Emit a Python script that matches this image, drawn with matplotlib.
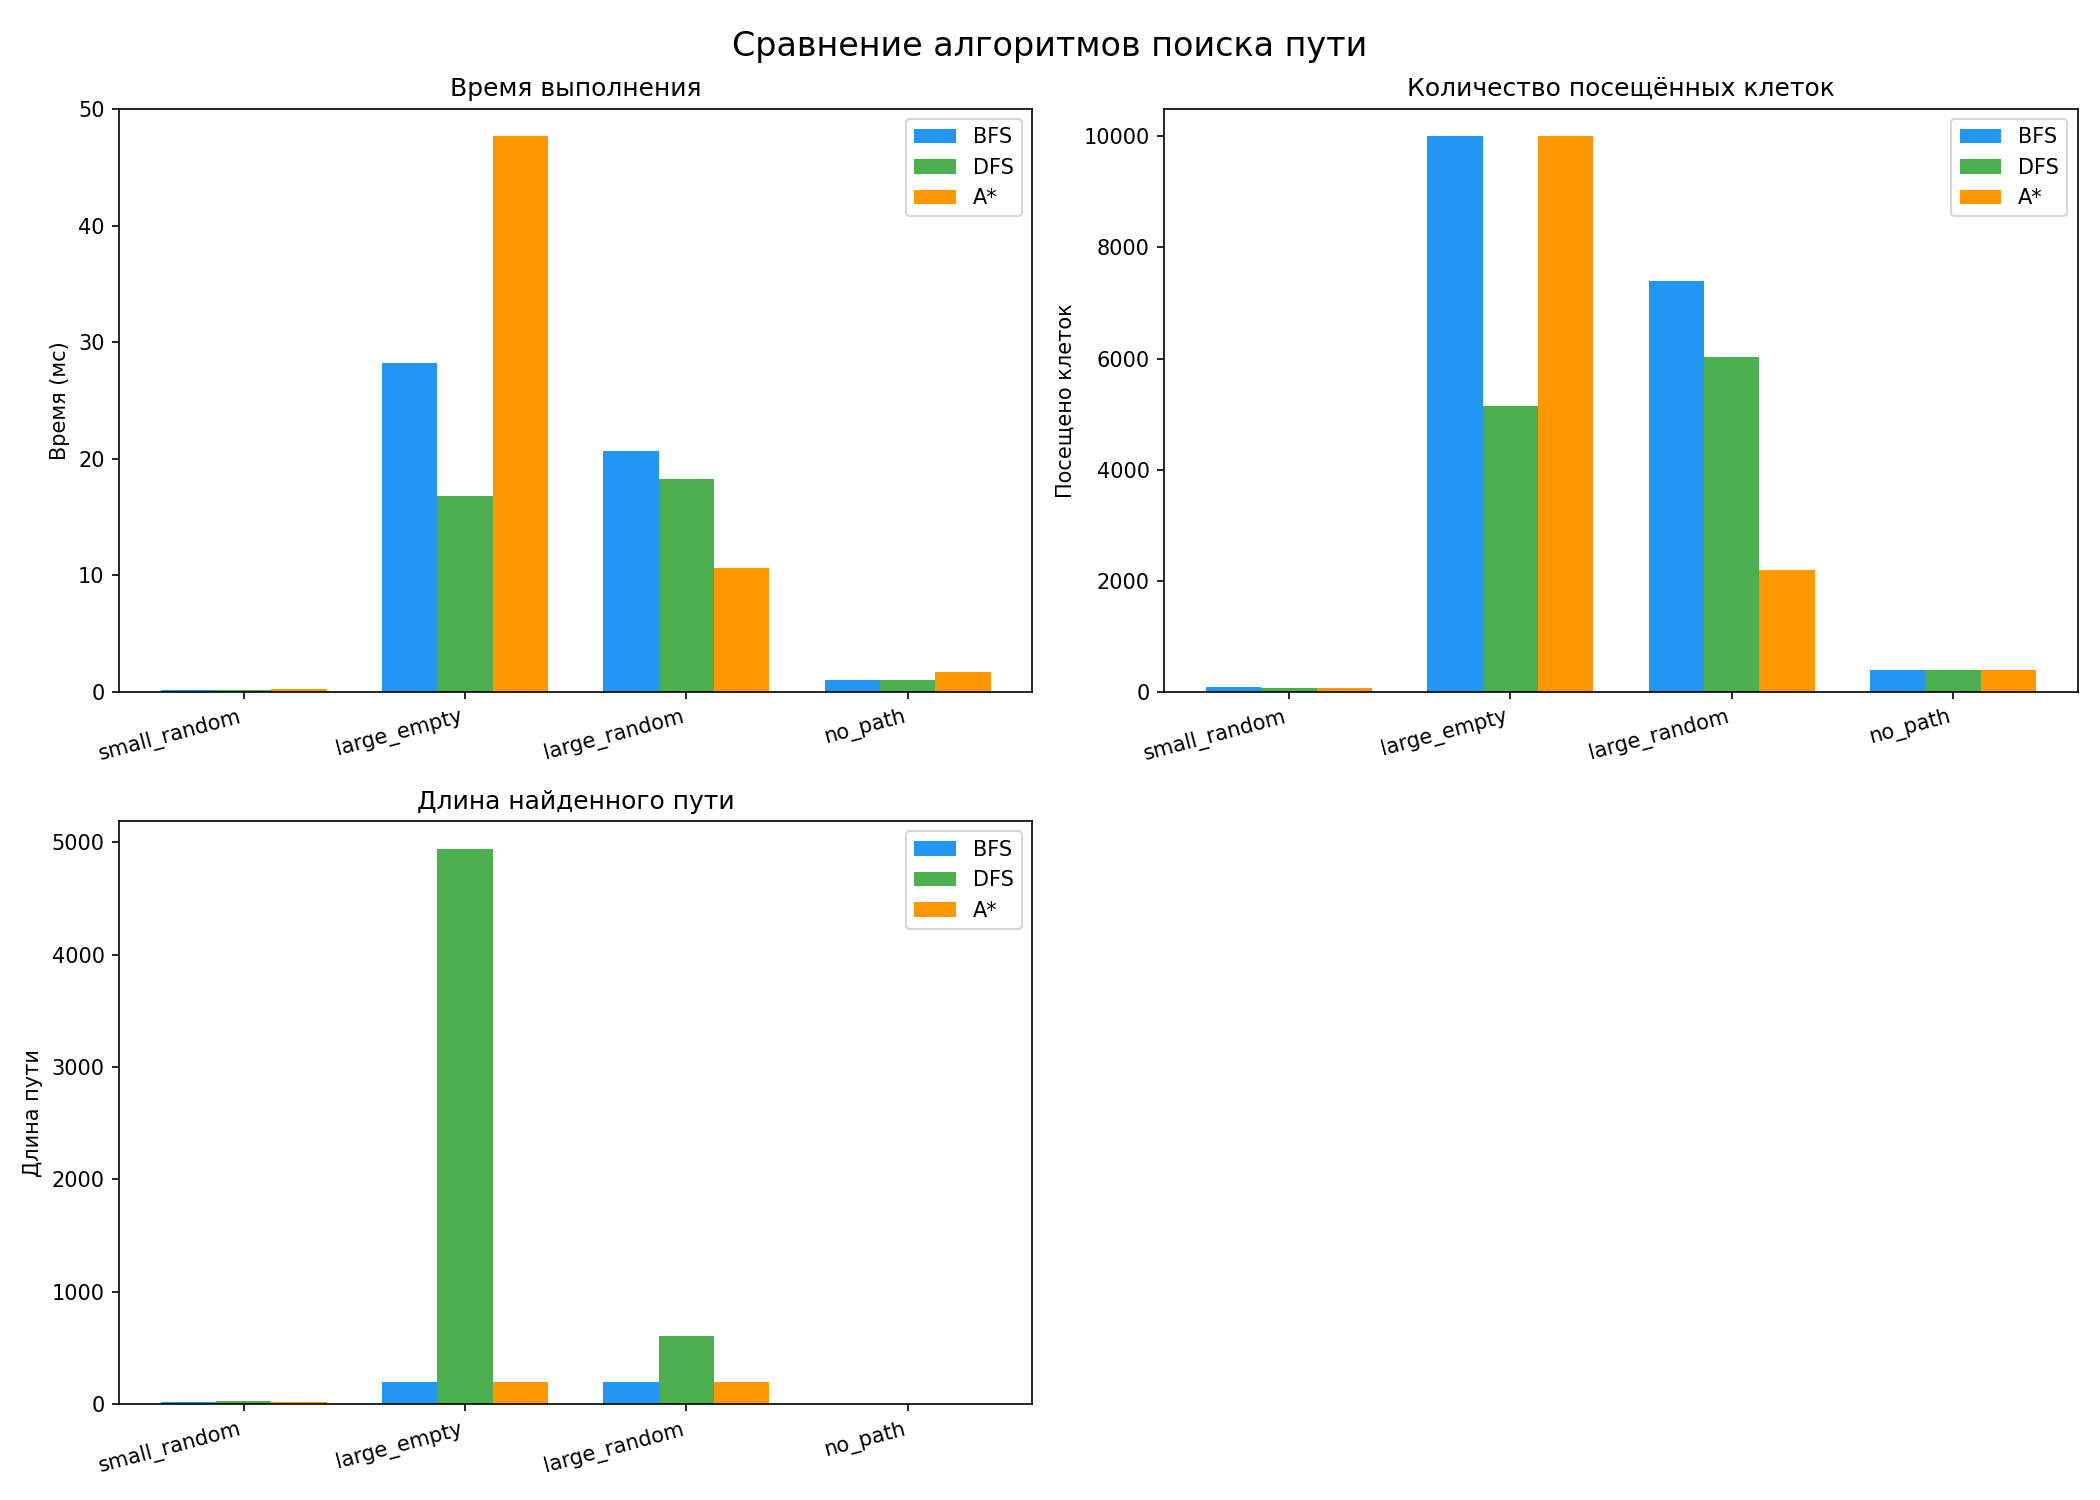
"""
Сравнение алгоритмов поиска пути: время, посещённые клетки, длина пути.
"""

import matplotlib
import numpy as np

matplotlib.use("Agg")
import matplotlib.pyplot as plt


SCENARIOS = ["small_random", "large_empty", "large_random", "no_path"]
ALGORITHMS = ["BFS", "DFS", "A*"]

TIME_BFS = [0.12, 28.2, 20.7, 1.0]
TIME_DFS = [0.12, 16.8, 18.3, 1.0]
TIME_ASTAR = [0.23, 47.7, 10.6, 1.7]

VISITED_BFS = [85, 10000, 7390, 400]
VISITED_DFS = [66, 5140, 6030, 400]
VISITED_ASTAR = [66, 10000, 2200, 400]

PATH_BFS = [20, 199, 199, 0]
PATH_DFS = [31, 4940, 612, 0]
PATH_ASTAR = [20, 199, 199, 0]

COLORS = ["#2196F3", "#4CAF50", "#FF9800"]


def draw_panel(axis, series, title, ylabel):
    """Grouped bar chart for one metric."""
    positions = np.arange(len(SCENARIOS))
    width = 0.25

    for index, (name, values) in enumerate(zip(ALGORITHMS, series)):
        axis.bar(
            positions + (index - 1) * width,
            values,
            width,
            label=name,
            color=COLORS[index],
        )

    axis.set_title(title)
    axis.set_ylabel(ylabel)
    axis.set_xticks(positions)
    axis.set_xticklabels(SCENARIOS, rotation=15, ha="right")
    axis.legend(loc="upper right")


def main():
    figure, axes = plt.subplots(2, 2, figsize=(14, 10))

    draw_panel(
        axes[0, 0],
        [TIME_BFS, TIME_DFS, TIME_ASTAR],
        "Время выполнения",
        "Время (мс)",
    )
    draw_panel(
        axes[0, 1],
        [VISITED_BFS, VISITED_DFS, VISITED_ASTAR],
        "Количество посещённых клеток",
        "Посещено клеток",
    )
    draw_panel(
        axes[1, 0],
        [PATH_BFS, PATH_DFS, PATH_ASTAR],
        "Длина найденного пути",
        "Длина пути",
    )
    axes[1, 1].set_visible(False)

    figure.suptitle("Сравнение алгоритмов поиска пути", fontsize=16)
    figure.tight_layout()
    figure.savefig("out.png", dpi=150)
    plt.close(figure)


if __name__ == "__main__":
    main()
